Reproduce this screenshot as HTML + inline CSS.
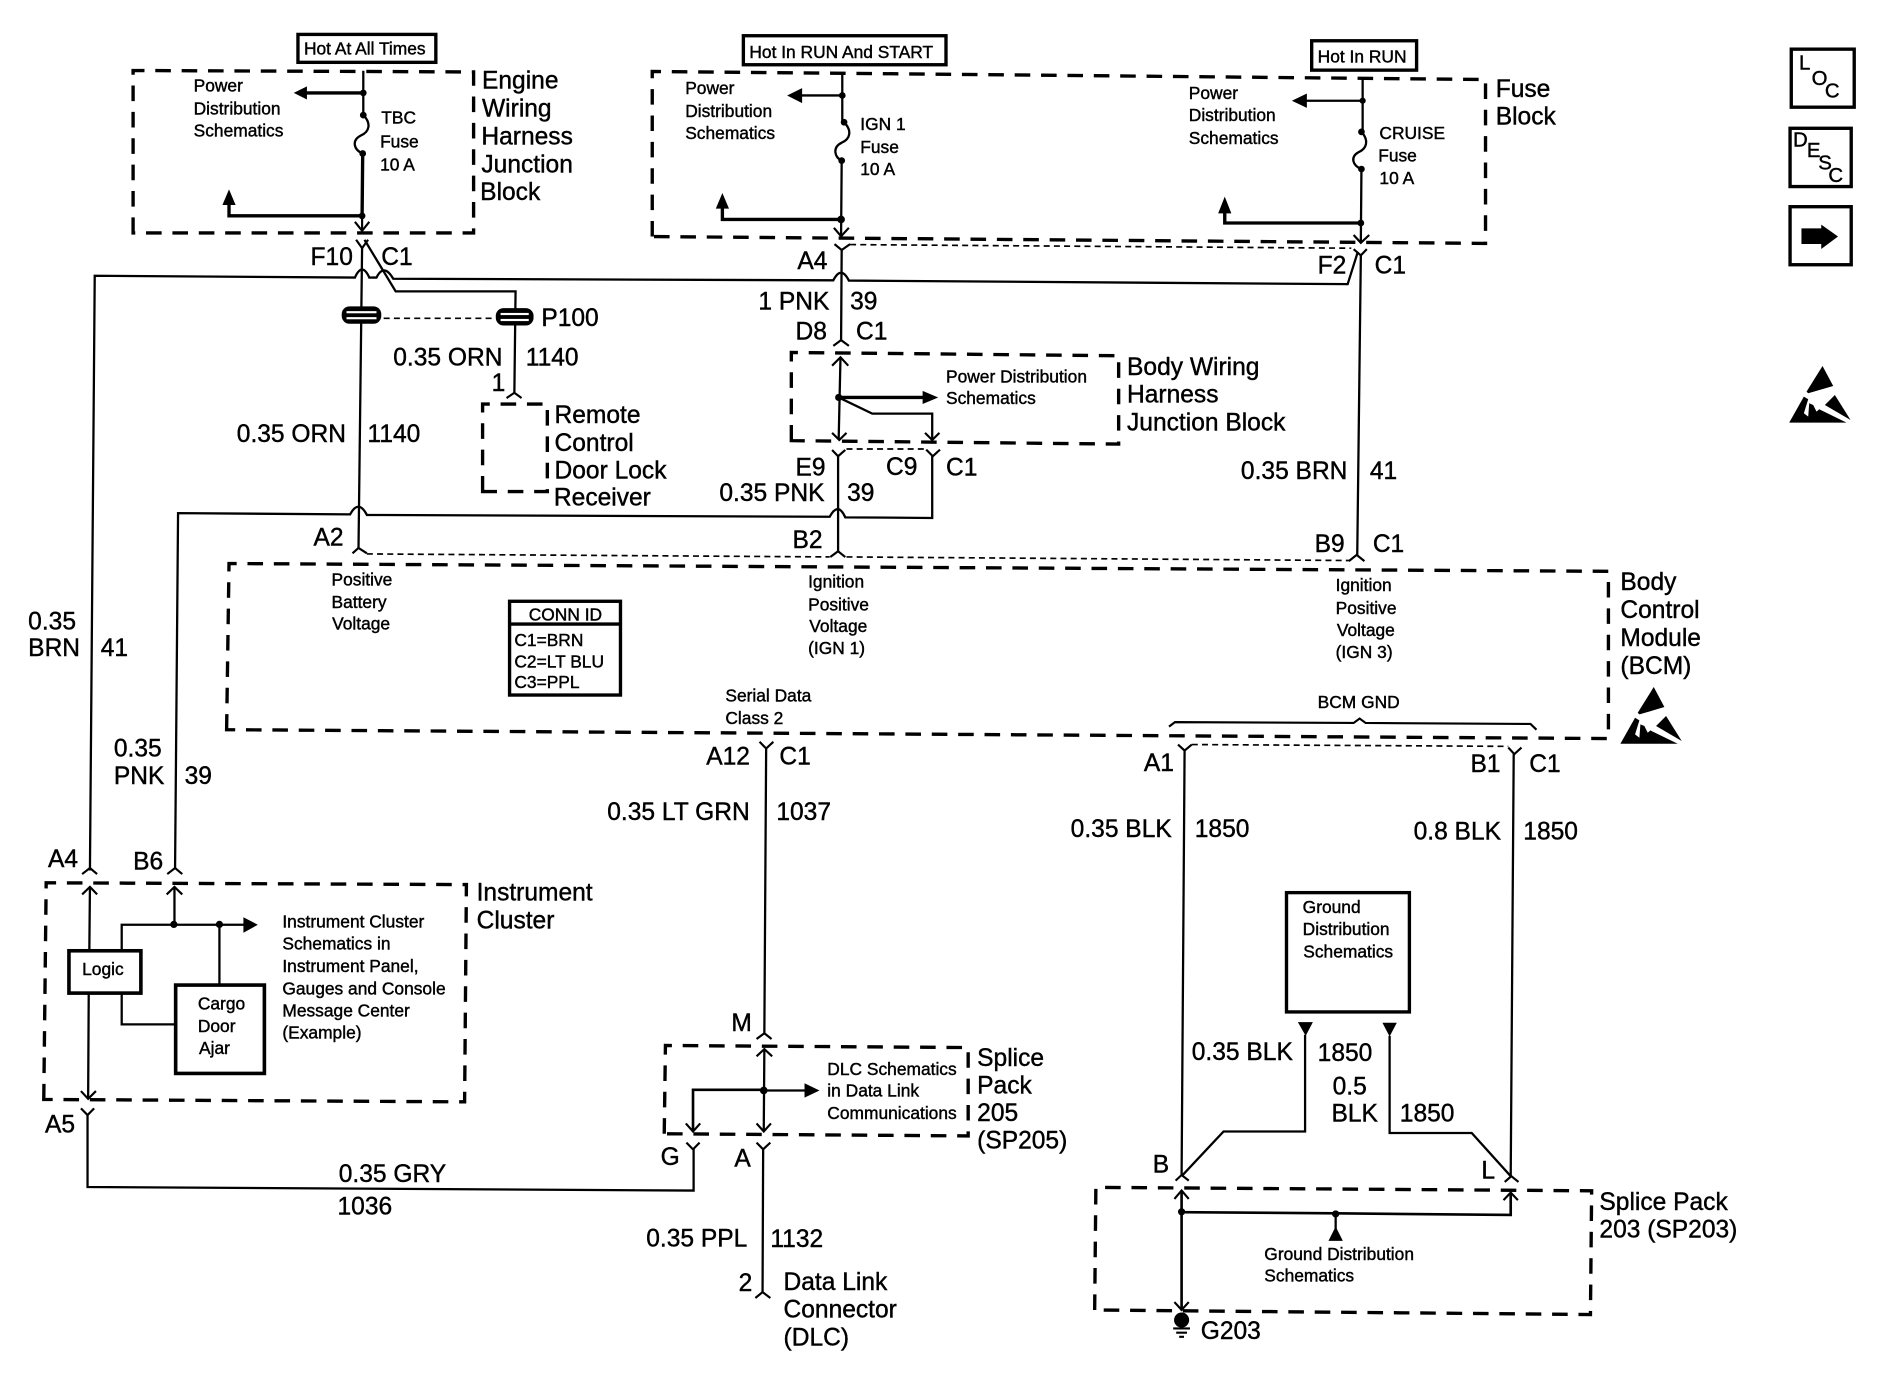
<!DOCTYPE html>
<html><head><meta charset="utf-8"><title>Wiring schematic</title>
<style>
html,body{margin:0;padding:0;background:#fff;width:1880px;height:1392px;overflow:hidden}
svg{display:block}
text{font-family:"Liberation Sans",Arial,sans-serif;fill:#000;stroke:#000;stroke-width:.35}
.t text,text.t{font-size:14.5px}
.b text,text.b{font-size:20.5px}
.w{fill:none;stroke:#000;stroke-width:1.9}
.h{fill:none;stroke:#000;stroke-width:2.8}
.m{fill:none;stroke:#000;stroke-width:2.2}
.c{fill:none;stroke:#000;stroke-width:1.8}
.d{fill:none;stroke:#000;stroke-width:2.8;stroke-dasharray:13 9}
.f{fill:none;stroke:#000;stroke-width:1.4;stroke-dasharray:5 3.5}
.r{fill:#fff;stroke:#000;stroke-width:2.8}
</style></head><body>
<svg xmlns="http://www.w3.org/2000/svg" width="1880" height="1392" viewBox="0 0 1568 1161">
<rect x="0" y="0" width="1568" height="1161" fill="#fff"/>

<!-- dashed blocks -->
<path class="d" d="M111 194.3V58.8L395 60V194.3Z"/>
<path class="d" d="M544 197.3V59.6L1239 66.3V203Z"/>
<path class="d" d="M660 367.5V294L933 296.7V370.4Z"/>
<path class="d" d="M402.5 410V337H456.5V410Z"/>
<path class="d" d="M189 608.6L191 470L1341.5 476.5V616Z"/>
<path class="d" d="M36.5 917L38.5 736.3L389 737.8L387.5 919Z"/>
<path class="d" d="M554 945.6L555 872L807.5 873.7V947.4Z"/>
<path class="d" d="M913 1092.6L914 990.3L1327.5 993.2L1326.5 1096.4Z"/>

<!-- thin connector shells -->
<path class="f" d="M709 204L1127 207"/>
<path class="f" d="M706 374.5H772"/>
<path class="f" d="M306 462L692 464.5"/>
<path class="f" d="M706 464.5L1125 467.5"/>
<path class="f" d="M994 621L1258 622.5"/>
<path class="f" d="M320 265.5H412"/>

<!-- Labelled boxes -->
<rect class="r" x="248.5" y="28.7" width="115" height="23.3"/>
<rect class="r" x="620" y="29.8" width="169" height="24.2"/>
<rect class="r" x="1094" y="34" width="87.5" height="24.5"/>
<rect class="r" x="1494" y="41" width="52.5" height="48.4"/>
<rect class="r" x="1493" y="107" width="51" height="48.6"/>
<rect class="r" x="1493" y="172.4" width="51" height="48.4"/>
<path d="M1502.5 190.5H1519V187.3L1533 197.3L1519 207.7V203.5H1502.5Z"/>

<!-- Engine block internals -->
<path class="w" d="M303 59V96"/>
<path class="h" d="M303 77.5H255"/>
<path d="M245 77.5L256 72V83Z"/>
<path class="w" d="M303 96C310 103 308 110 301 113C293 117 295 125 302.5 128"/>
<path class="h" d="M302.5 128L302 180H191V169"/>
<path d="M191 158L185.5 171H196.5Z"/>
<path class="c" d="M302 180V192"/>
<polyline class="c" points="296,185 302,192.5 308,185"/>
<circle cx="303" cy="77.5" r="2.8"/><circle cx="303" cy="96" r="2.8"/><circle cx="302.5" cy="128" r="2.8"/><circle cx="302" cy="180" r="2.8"/>

<!-- IGN 1 internals -->
<path class="w" d="M702.5 60V102"/>
<path class="w" d="M702.5 79.6H668"/>
<path d="M656.5 79.6L669 73.5V86Z"/>
<path class="w" d="M704 102C711 109 709 116 702 119C694 123 696 131 702 134"/>
<path class="w" d="M702 134L701.5 196"/>
<path class="h" d="M701.5 183H602.5V172"/>
<path d="M602.5 161L597 174H608Z"/>
<polyline class="c" points="695.5,190 701.5,197 708,190"/>
<circle cx="702.5" cy="79.6" r="2.8"/><circle cx="704" cy="102" r="2.8"/><circle cx="702" cy="134" r="2.8"/><circle cx="701.5" cy="183" r="3.2"/>

<!-- CRUISE internals -->
<path class="w" d="M1136.5 66V110"/>
<path class="w" d="M1136.5 84H1088"/>
<path d="M1077.5 84L1090 78V90Z"/>
<path class="w" d="M1135.5 110C1142 117 1140 124 1133 127C1126 131 1128 138 1135.5 141"/>
<path class="w" d="M1135.5 141L1135 202"/>
<path class="h" d="M1135 186H1021.5V176"/>
<path d="M1021.5 164L1016 178H1027Z"/>
<polyline class="c" points="1129,196 1135,202.5 1142,196"/>
<circle cx="1136.5" cy="84" r="2.6"/><circle cx="1135.5" cy="110" r="2.8"/><circle cx="1135.5" cy="141" r="2.8"/><circle cx="1135" cy="186" r="2.8"/>

<!-- Forks under top blocks -->
<polyline class="c" points="297,200 302,207 307,200"/>
<polyline class="c" points="696,203.6 702,208.5 709,203.6"/>
<polyline class="c" points="1129,207.8 1135,213 1140,207.8"/>

<!-- BRN 41 wire -->
<path class="w" d="M75 726L79 230L296 231.5Q302 218 308 231.5L314 231.5Q320 219 328 232.5L695 233.8Q701.5 221 708 234L1124 237L1132.5 210"/>
<polyline class="c" points="68.5,729 75,724 81,729"/>

<!-- ORN wire, splices -->
<path class="w" d="M302 206L299 458"/>
<path class="w" d="M304 200L330 243H430L429 327.6"/>
<g>
<rect x="285" y="255.5" width="33" height="14.500" rx="6.500"/>
<rect x="289" y="259.500" width="25" height="1.800" fill="#fff"/>
<rect x="289" y="264.500" width="25" height="1.800" fill="#fff"/>
<rect x="413.500" y="257" width="31.500" height="14.500" rx="6.500"/>
<rect x="417.500" y="261" width="23.500" height="1.800" fill="#fff"/>
<rect x="417.500" y="266" width="23.500" height="1.800" fill="#fff"/>
</g>
<polyline class="c" points="422.5,332 429,327.6 435,332"/>
<polyline class="c" points="294,461.5 299,457 306,461.5"/>

<!-- IGN main + body wiring -->
<path class="w" d="M702 208L701.5 284"/>
<polyline class="c" points="695,288.5 701.5,283.7 708,288.5"/>
<polyline class="c" points="694,305 701,298 707.5,305"/>
<path class="w" d="M701 298L699.5 366"/>
<path class="h" d="M699.5 331.5H770"/>
<path d="M782.5 331.5L769.5 326V337Z"/>
<path class="w" d="M699.5 331.5L727.5 345H777.5V366.5"/>
<polyline class="c" points="694,361 700,367 706,361"/>
<polyline class="c" points="771.5,361 777.5,367 783.5,361"/>
<circle cx="699.5" cy="331.5" r="3"/>
<polyline class="c" points="694,375.3 699,380.5 705,375.3"/>
<polyline class="c" points="772.5,375 778,380.5 784,375"/>
<path class="w" d="M699 380L699 460"/>
<polyline class="c" points="692.5,464.6 699,459.8 705,464.6"/>

<!-- PNK 39 wire -->
<path class="w" d="M146 725L148.5 428L292 429Q299 416 306 429.5L692 431Q699 418 705 431.5L777.5 432V380"/>
<polyline class="c" points="139.5,729 146,724 152,729"/>

<!-- BRN to BCM -->
<path class="w" d="M1135 213L1132 463"/>
<polyline class="c" points="1125,468 1131.5,462.8 1138,468"/>

<!-- Conn ID box -->
<rect class="r" x="425" y="501.5" width="92.5" height="78.2"/>
<path class="h" d="M425 520.5H517.5"/>

<!-- BCM GND brace -->
<path class="c" d="M975 606L980 602.3L1129 603L1134 599.3L1139 603L1276.5 603.8L1281.5 608.6"/>

<!-- Serial data wire -->
<polyline class="c" points="633.5,618.7 639,624.3 645,618.7"/>
<path class="w" d="M639 624L637.5 862"/>
<polyline class="c" points="631,866.6 637.5,861.8 643.5,866.6"/>

<!-- SP205 internals -->
<polyline class="c" points="631,881 637.5,875 644,881"/>
<path class="w" d="M637.5 875L637 943.5"/>
<polyline class="c" points="631,937 637,943.7 643,937"/>
<path class="m" d="M578 943.5V909H637"/>
<path class="w" d="M637 909.5H672"/>
<path d="M683.5 909.5L671 903.5V915.5Z"/>
<polyline class="c" points="572,937 578,943.7 584,937"/>
<circle cx="637" cy="909.5" r="3.2"/>
<polyline class="c" points="572.5,953 578,958.6 583.5,953"/>
<polyline class="c" points="631,953 636.5,958.6 642.5,953"/>
<path class="w" d="M636.5 958L636 1078"/>
<polyline class="c" points="630,1082.6 636,1077.7 642.5,1082.6"/>

<!-- Instrument cluster -->
<polyline class="c" points="68.5,746 75,739.7 81,746"/>
<polyline class="c" points="139,746 145.5,739.7 152,746"/>
<path class="w" d="M75 740L74.5 793M74 828L73.5 916"/>
<polyline class="c" points="67.5,910 73.5,916.5 80,910"/>
<path class="w" d="M145.5 740V771"/>
<path class="w" d="M101.5 793V771.3H204"/>
<path class="w" d="M101.5 828V854.4H146.5"/>
<path class="w" d="M183 771V821.6"/>
<path d="M215 771.3L203 765V778Z"/>
<circle cx="145" cy="771" r="3"/><circle cx="183" cy="771" r="3"/>
<rect x="57.5" y="793" width="60" height="35.3" fill="#fff" stroke="#000" stroke-width="3"/>
<rect x="146.5" y="821.6" width="74" height="73.7" fill="#fff" stroke="#000" stroke-width="3"/>
<polyline class="c" points="67.5,924.4 73,930 78.5,924.4"/>
<path class="w" d="M73 930V990L578.5 993V958"/>

<!-- Right ground wires -->
<polyline class="c" points="982.5,621 988,626 994,621"/>
<polyline class="c" points="1258,623.5 1263,629 1269,623.5"/>
<path class="w" d="M988 626L985.5 981"/>
<path class="w" d="M1262.5 629L1260 981"/>
<rect class="r" x="1073" y="744.5" width="102.5" height="99.5"/>
<path d="M1082.5 852.5H1095L1089 864Z"/>
<path d="M1153 853H1165L1159 864.5Z"/>
<path class="w" d="M1088.5 863V943.7H1020.5L985.5 981"/>
<path class="w" d="M1159 864V945H1227.5L1260 981"/>
<polyline class="c" points="980.5,984.7 985.5,980 991.5,984.7"/>
<polyline class="c" points="1255,985.8 1260.5,981 1266.5,985.8"/>

<!-- SP203 internals -->
<polyline class="c" points="979.5,1000 985.5,993 991.5,1000"/>
<path class="m" d="M985.5 993V1093"/>
<path class="m" d="M985.5 1011L1114 1012L1260 1013.3V995"/>
<polyline class="c" points="1254,1001 1260,994.7 1266,1001"/>
<circle cx="985.5" cy="1010.7" r="3"/><circle cx="1114" cy="1012.5" r="3"/>
<path class="w" d="M1114 1012.5V1026"/>
<path d="M1114 1023L1108 1035H1120Z"/>
<polyline class="c" points="979.5,1086 985.5,1092.5 991.5,1086"/>
<circle cx="985.5" cy="1101" r="6.3"/>
<path class="c" d="M978.5 1108H992.5M981 1111.5H990M983.5 1115H987.5"/>

<!-- ESD icons -->
<g transform="translate(1484.5 291.9) scale(.278)">
<path d="M128 48L160 108L85 130L80 125Z"/><path d="M165 135L212 210L135 165Z"/><path d="M28 218L72 140L85 148L72 190L85 200L88 160L100 165L110 185L118 178L200 218Z"/>
</g>
<g transform="translate(1343.7 559.7) scale(.278)">
<path d="M128 48L160 108L85 130L80 125Z"/><path d="M165 135L212 210L135 165Z"/><path d="M28 218L72 140L85 148L72 190L85 200L88 160L100 165L110 185L118 178L200 218Z"/>
</g>

<!-- Small text -->
<g class="t">
<text x="253.5" y="45.5">Hot At All Times</text>
<text x="625" y="48.4">Hot In RUN And START</text>
<text x="1099" y="52">Hot In RUN</text>
<text x="161.5" y="76.5">Power</text><text x="161.5" y="95.5">Distribution</text><text x="161.5" y="114">Schematics</text>
<text x="318" y="103">TBC</text><text x="317" y="123">Fuse</text><text x="317" y="142">10 A</text>
<text x="571.5" y="78.5">Power</text><text x="571.5" y="97.5">Distribution</text><text x="571.5" y="116">Schematics</text>
<text x="717.5" y="108.5">IGN 1</text><text x="717.5" y="127.5">Fuse</text><text x="717.5" y="146">10 A</text>
<text x="991.5" y="82.6">Power</text><text x="991.5" y="101">Distribution</text><text x="991.5" y="120">Schematics</text>
<text x="1150.5" y="116">CRUISE</text><text x="1149.5" y="134.8">Fuse</text><text x="1150.5" y="153.4">10 A</text>
<text x="789" y="319">Power Distribution</text><text x="789" y="337">Schematics</text>
<text x="276.5" y="488.5">Positive</text><text x="276.5" y="507">Battery</text><text x="277" y="525">Voltage</text>
<text x="674" y="490">Ignition</text><text x="674" y="509">Positive</text><text x="675" y="527">Voltage</text><text x="674" y="545.4">(IGN 1)</text>
<text x="1114" y="493">Ignition</text><text x="1114" y="512">Positive</text><text x="1115" y="530.5">Voltage</text><text x="1114" y="549">(IGN 3)</text>
<text x="605" y="585">Serial Data</text><text x="605" y="604">Class 2</text>
<text x="1099" y="590.4">BCM GND</text>
<text x="441" y="517.5">CONN ID</text>
<text x="429" y="539">C1=BRN</text><text x="429" y="556.6">C2=LT BLU</text><text x="429" y="574">C3=PPL</text>
<text x="235.5" y="773.6">Instrument Cluster</text><text x="235.5" y="792">Schematics in</text><text x="235.5" y="810.8">Instrument Panel,</text><text x="235.5" y="829.4">Gauges and Console</text><text x="235.5" y="847.7">Message Center</text><text x="235.5" y="866">(Example)</text>
<text x="68.5" y="813.4">Logic</text>
<text x="165" y="842">Cargo</text><text x="165" y="860.7">Door</text><text x="166" y="879">Ajar</text>
<text x="690" y="896.4">DLC Schematics</text><text x="690" y="914.7">in Data Link</text><text x="690" y="933.3">Communications</text>
<text x="1086.5" y="761.3">Ground</text><text x="1086.5" y="780">Distribution</text><text x="1087" y="798.5">Schematics</text>
<text x="1054.5" y="1051">Ground Distribution</text><text x="1054.5" y="1069">Schematics</text>
</g>

<!-- Big text -->
<g class="b">
<text x="402" y="74">Engine</text><text x="402" y="97">Wiring</text><text x="401.5" y="120.5">Harness</text><text x="401.5" y="144">Junction</text><text x="400.5" y="167">Block</text>
<text x="1247.5" y="81">Fuse</text><text x="1247.5" y="104">Block</text>
<text x="940" y="312.7">Body Wiring</text><text x="940" y="335.8">Harness</text><text x="940" y="359">Junction Block</text>
<text x="462.5" y="353">Remote</text><text x="462.5" y="376">Control</text><text x="462.5" y="399">Door Lock</text><text x="462" y="421.5">Receiver</text>
<text x="1351.5" y="492">Body</text><text x="1351.5" y="515.6">Control</text><text x="1351.5" y="538.7">Module</text><text x="1351.5" y="562">(BCM)</text>
<text x="397.5" y="751">Instrument</text><text x="397.5" y="774.3">Cluster</text>
<text x="815" y="889">Splice</text><text x="815" y="912">Pack</text><text x="815" y="935">205</text><text x="815" y="958">(SP205)</text>
<text x="1334" y="1009">Splice Pack</text><text x="1334" y="1032">203 (SP203)</text>
<text x="653.5" y="1076">Data Link</text><text x="653.5" y="1099">Connector</text><text x="653.5" y="1122.4">(DLC)</text>

<text x="259" y="221">F10</text><text x="318" y="221">C1</text>
<text x="665" y="224.5">A4</text>
<text x="1099" y="228">F2</text><text x="1146.5" y="228">C1</text>
<text x="632.5" y="258">1 PNK</text><text x="709" y="258">39</text>
<text x="663.5" y="283">D8</text><text x="714" y="283">C1</text>
<text x="451.5" y="272">P100</text>
<text x="328" y="305">0.35 ORN</text><text x="438.5" y="305">1140</text>
<text x="410" y="326">1</text>
<text x="197.5" y="368.6">0.35 ORN</text><text x="306.5" y="368.6">1140</text>
<text x="663.5" y="396.5">E9</text><text x="739" y="396">C9</text><text x="789" y="396.5">C1</text>
<text x="600" y="417.7">0.35 PNK</text><text x="706.5" y="417.7">39</text>
<text x="1035" y="399.5">0.35 BRN</text><text x="1142.5" y="399.5">41</text>
<text x="261.5" y="455">A2</text><text x="661" y="457">B2</text>
<text x="1096.5" y="460.5">B9</text><text x="1145" y="460.5">C1</text>
<text x="23.5" y="525">0.35</text><text x="23.5" y="547">BRN</text><text x="84" y="547">41</text>
<text x="95" y="631">0.35</text><text x="95" y="654">PNK</text><text x="154" y="654">39</text>
<text x="40" y="723">A4</text><text x="111" y="725">B6</text>
<text x="37.5" y="944.5">A5</text>
<text x="282.5" y="985.8">0.35 GRY</text><text x="281.5" y="1013">1036</text>
<text x="551" y="971.6">G</text><text x="612.5" y="973">A</text>
<text x="589" y="637.7">A12</text><text x="650" y="637.7">C1</text>
<text x="506.5" y="683.8">0.35 LT GRN</text><text x="647.5" y="683.8">1037</text>
<text x="610" y="860">M</text>
<text x="539" y="1039.8">0.35 PPL</text><text x="642.5" y="1040">1132</text>
<text x="616" y="1076.6">2</text>
<text x="954" y="643">A1</text><text x="1226.5" y="644">B1</text><text x="1275.5" y="644">C1</text>
<text x="893" y="698">0.35 BLK</text><text x="996.5" y="698">1850</text>
<text x="1179" y="700">0.8 BLK</text><text x="1270.5" y="700">1850</text>
<text x="994" y="884">0.35 BLK</text><text x="1099" y="885">1850</text>
<text x="1111.5" y="913">0.5</text><text x="1110.5" y="935.5">BLK</text><text x="1167.5" y="935.5">1850</text>
<text x="961.5" y="978">B</text><text x="1235.5" y="983">L</text>
<text x="1001.5" y="1117">G203</text>
</g>

<!-- LOC / DESC letters -->
<g>
<text x="1500.5" y="58" style="font-size:17px">L</text><text x="1511" y="71" style="font-size:17px">O</text><text x="1522" y="81.5" style="font-size:17px">C</text>
<text x="1495.5" y="122" style="font-size:17px">D</text><text x="1507" y="131" style="font-size:17px">E</text><text x="1516.5" y="141.5" style="font-size:17px">S</text><text x="1525" y="152" style="font-size:17px">C</text>
</g>
</svg>
</body></html>
